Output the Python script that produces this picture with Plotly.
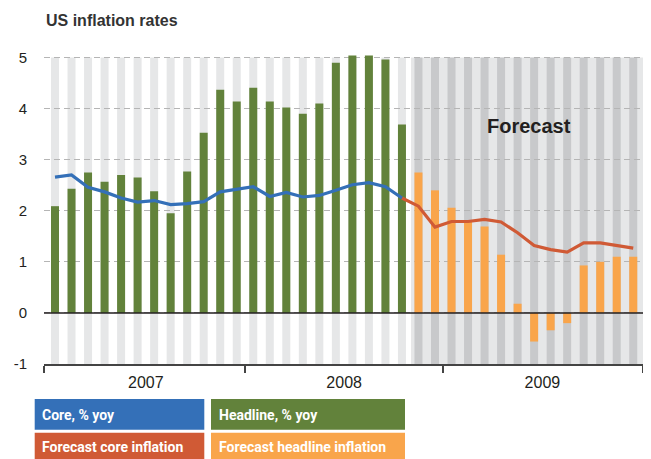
import plotly.graph_objects as go

# ---------------- data ----------------
months = [f"{y}-{m:02d}" for y in (2007, 2008, 2009) for m in range(1, 13)]
years = ["2007", "2008", "2009"]
headline = [2.09, 2.43, 2.75, 2.57, 2.70, 2.65, 2.38, 1.95, 2.77, 3.53, 4.37, 4.14,
            4.41, 4.14, 4.02, 3.90, 4.10, 4.90, 5.04, 5.04, 4.96, 3.69]
core = [2.66, 2.70, 2.46, 2.37, 2.25, 2.17, 2.20, 2.12, 2.14, 2.18, 2.37, 2.42,
        2.47, 2.28, 2.36, 2.27, 2.30, 2.40, 2.51, 2.55, 2.47, 2.25]
forecast_headline = [2.75, 2.40, 2.06, 1.78, 1.69, 1.14, 0.18, -0.56, -0.34, -0.20,
                     0.93, 1.00, 1.10, 1.10]
forecast_core = [2.09, 1.68, 1.79, 1.79, 1.83, 1.78, 1.57, 1.32, 1.24, 1.19,
                 1.37, 1.37, 1.32, 1.27]
yticks = [-1, 0, 1, 2, 3, 4, 5]
ytick_labels = ["-1", "0", "1", "2", "3", "4", "5"]

# ---------------- styling ----------------
BLUE = "#3470b8"
GREEN = "#62823b"
RED = "#d05a35"
ORANGE = "#f9a54b"
LIGHT = "#e6e7e8"
DARK = "#c8c9cb"
TXT = "#231f20"
FONT = "Liberation Sans, Arial, sans-serif"
LEGFONT = "Roboto, Liberation Sans, sans-serif"

OFF = 8  # page body margin
W, H = 651 - OFF, 459 - OFF
ML, MR, MT, MB = 44 - OFF, 8, 55 - OFF, 95
PW, PH = W - ML - MR, H - MT - MB
X_MIN, X_MAX = -0.666, 35.59
Y_MIN, Y_MAX = -1, 5.05
BAR_W = 0.484

n_hist = len(headline)
hist_x = list(range(n_hist))
fc_x = list(range(n_hist, len(months)))


def px_x(p):  # screen pixel -> paper
    return (p - OFF - ML) / PW


def px_y(p):
    return (H - MB - (p - OFF)) / PH


fig = go.Figure()

fig.add_trace(go.Bar(x=hist_x, y=headline, width=BAR_W, marker_color=GREEN,
                     marker_line_width=0, name="Headline, % yoy"))
fig.add_trace(go.Bar(x=fc_x, y=forecast_headline, width=BAR_W, marker_color=ORANGE,
                     marker_line_width=0, name="Forecast headline inflation"))
fig.add_trace(go.Scatter(x=[hist_x[-1]] + fc_x, y=[core[-1]] + forecast_core,
                         mode="lines", line=dict(color=RED, width=3.2),
                         name="Forecast core inflation"))
fig.add_trace(go.Scatter(x=hist_x, y=core, mode="lines",
                         line=dict(color=BLUE, width=3.2), name="Core, % yoy"))

shapes = []
# forecast background
shapes.append(dict(type="rect", xref="x", yref="y", x0=n_hist - 0.45, x1=X_MAX,
                   y0=-1, y1=5, fillcolor=LIGHT, line_width=0, layer="below"))
# month stripes
for i in range(len(months)):
    shapes.append(dict(type="rect", xref="x", yref="y", x0=i - BAR_W / 2,
                       x1=i + BAR_W / 2, y0=-1, y1=5,
                       fillcolor=LIGHT if i < n_hist else DARK,
                       line_width=0, layer="below"))
# zero line
shapes.append(dict(type="line", xref="paper", yref="y", x0=0, x1=1, y0=0, y1=0,
                   line=dict(color=TXT, width=1.6), layer="above"))

annotations = [
    dict(text="US inflation rates", xref="paper", yref="paper", x=px_x(44),
         y=px_y(21), xanchor="left", yanchor="middle", showarrow=False,
         font=dict(family=FONT, size=16, color="#333333", weight="bold")),
    dict(text="Forecast", xref="x", yref="y", x=28.66, y=3.66, showarrow=False,
         xanchor="center", yanchor="middle",
         font=dict(family=FONT, size=20, color=TXT, weight="bold")),
]

# legend boxes (screen pixel positions)
legend = [
    ("Core, % yoy", BLUE, 34.7, 204.3, 399, 429.7),
    ("Headline, % yoy", GREEN, 211, 405, 399, 429.7),
    ("Forecast core inflation", RED, 34.7, 204.3, 432.7, 460),
    ("Forecast headline inflation", ORANGE, 211, 405, 432.7, 460),
]
for label, col, x0, x1, y0, y1 in legend:
    shapes.append(dict(type="rect", xref="paper", yref="paper", x0=px_x(x0),
                       x1=px_x(x1), y0=px_y(y1), y1=px_y(y0), fillcolor=col,
                       line_width=0))
    annotations.append(dict(text=label, xref="paper", yref="paper",
                            x=px_x(x0 + 5.5), y=px_y((y0 + min(y1, 459)) / 2 + 1),
                            xanchor="left", yanchor="middle", showarrow=False,
                            font=dict(family=LEGFONT, size=14, color="white",
                                      weight="bold")))

fig.update_layout(
    width=W, height=H, margin=dict(l=ML, r=MR, t=MT, b=MB, autoexpand=False),
    plot_bgcolor="white", paper_bgcolor="white", barmode="overlay",
    showlegend=False, shapes=shapes, annotations=annotations,
    font=dict(family=FONT, color=TXT),
    xaxis=dict(range=[X_MIN, X_MAX], showgrid=False, zeroline=False,
               showline=True, linecolor="#444444", linewidth=1.5,
               automargin=False,
               tickvals=[12 * k + 5.5 for k in range(len(years))],
               ticktext=years, ticks="", ticklabelstandoff=3,
               tickfont=dict(size=16, color=TXT, family=FONT),
               minor=dict(tickvals=[X_MIN, 11.5, 23.5, X_MAX], ticks="outside",
                          ticklen=7, tickwidth=1.5, tickcolor="#444444")),
    yaxis=dict(range=[Y_MIN, Y_MAX], tickvals=yticks, ticktext=ytick_labels,
               showgrid=True, automargin=False,
               gridcolor="#b5b5b5", griddash="6px,4px", gridwidth=1,
               zeroline=False, showline=False, ticks="",
               ticklabelstandoff=16,
               tickfont=dict(size=15, color=TXT, family=FONT)),
)

fig.write_html("out.html")
